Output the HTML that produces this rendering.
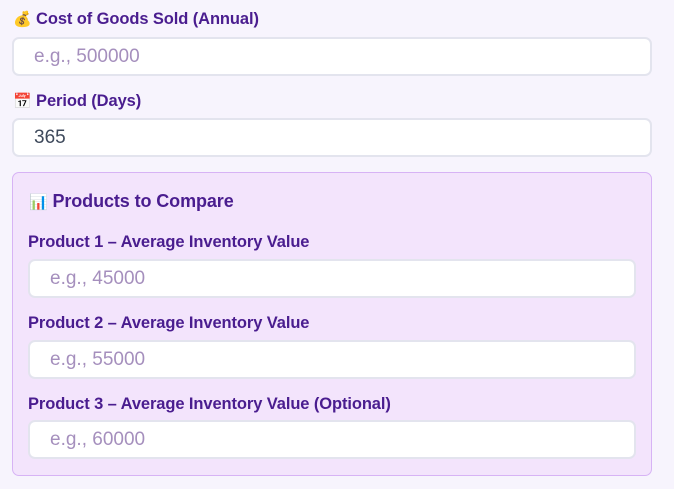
<!DOCTYPE html>
<html><head><style>
body{margin:0;width:674px;height:489px;background:#f7f4fd;font-family:"Liberation Sans","Noto Sans CJK SC",sans-serif;position:relative;overflow:hidden}
.l{position:absolute;font-weight:bold;color:#4a1d8f;font-size:16.5px;line-height:18px;white-space:nowrap;letter-spacing:-0.1px}
.i{position:absolute;background:#fff;border:2px solid #e3e4ee;border-radius:7px;box-sizing:border-box;height:39px;font-size:19px;line-height:35px;padding-left:20px;color:#a58fbd}
.box{position:absolute;left:12px;top:172px;width:640px;height:304px;box-sizing:border-box;background:#f3e4fc;border:1px solid #d7b3f5;border-radius:7px}
.ic{font-size:15px}
</style></head><body>
<div class="l" style="left:13px;top:10px"><span class="ic">💰</span> Cost of Goods Sold (Annual)</div>
<div class="i" style="left:12px;top:37px;width:640px">e.g., 500000</div>
<div class="l" style="left:13px;top:92px"><span class="ic">📅</span> Period (Days)</div>
<div class="i" style="left:12px;top:118px;width:640px;color:#3f4a5c">365</div>
<div class="box"></div>
<div class="l" style="left:29px;top:191px;font-size:18px;line-height:20px"><span class="ic">📊</span> Products to Compare</div>
<div class="l" style="left:28px;top:233px">Product 1 – Average Inventory Value</div>
<div class="i" style="left:28px;top:259px;width:608px">e.g., 45000</div>
<div class="l" style="left:28px;top:314px">Product 2 – Average Inventory Value</div>
<div class="i" style="left:28px;top:340px;width:608px">e.g., 55000</div>
<div class="l" style="left:28px;top:395px">Product 3 – Average Inventory Value (Optional)</div>
<div class="i" style="left:28px;top:420px;width:608px">e.g., 60000</div>
</body></html>
